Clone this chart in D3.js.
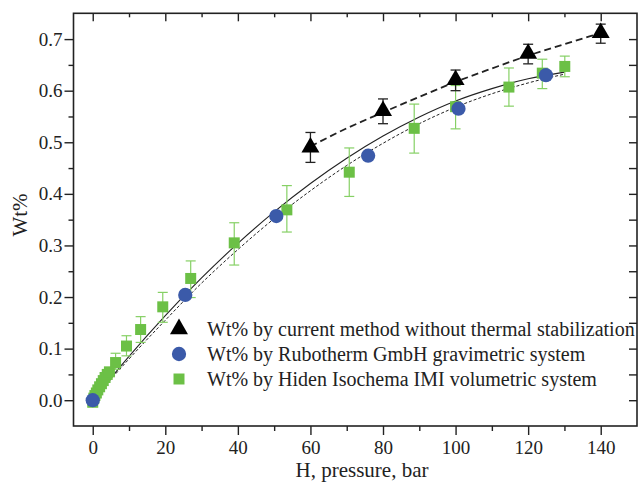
<!DOCTYPE html>
<html><head><meta charset="utf-8">
<script src="https://cdn.jsdelivr.net/npm/d3@7"></script>
</head>
<body style="margin:0;background:#fff">
<svg id="chart" width="638" height="483" style="display:block"></svg>
<script>
// ---- data ----
// current method without thermal stabilization (triangles)
const triX = [60, 80, 100, 120, 140];
const triY = [0.490, 0.561, 0.621, 0.672, 0.712];
const triLo = [0.461, 0.536, 0.600, 0.652, 0.692];
const triHi = [0.519, 0.584, 0.640, 0.690, 0.729];
// Rubotherm GmbH gravimetric (circles)
const cirX = [0, 25.5, 50.6, 75.9, 100.8, 124.9];
const cirY = [0.000, 0.204, 0.357, 0.474, 0.565, 0.630];
// Hiden Isochema IMI volumetric (squares)
const sqX = [0, 0.3, 0.6, 1.0, 1.4, 1.9, 2.4, 2.9, 3.4, 4.0, 4.6, 6.3, 9.3, 13.2, 19.3, 27.0, 39.0, 53.5, 70.7, 88.6, 100.0, 114.7, 123.9, 130.1];
const sqY = [-0.004, 0.004, 0.009, 0.014, 0.020, 0.026, 0.032, 0.038, 0.044, 0.050, 0.055, 0.073, 0.105, 0.137, 0.181, 0.236, 0.305, 0.369, 0.442, 0.527, 0.569, 0.607, 0.634, 0.647];
const sqLo = [null, null, null, null, null, null, null, null, null, null, null, 0.060, 0.086, 0.112, 0.151, 0.199, 0.262, 0.326, 0.395, 0.479, 0.526, 0.570, 0.604, 0.627];
const sqHi = [null, null, null, null, null, null, null, null, null, null, null, 0.091, 0.125, 0.162, 0.209, 0.270, 0.344, 0.416, 0.489, 0.574, 0.610, 0.644, 0.661, 0.667];
// fit curves
const fitSolidX = [0, 10, 20, 30, 40, 50, 60, 70, 80, 90, 100, 110, 120, 130];
const fitSolidY = [0, 0.085, 0.164, 0.237, 0.304, 0.365, 0.420, 0.469, 0.512, 0.549, 0.580, 0.604, 0.623, 0.636];
const fitDotX = [0, 10, 20, 30, 40, 50, 60, 70, 80, 90, 100, 110, 120, 130];
const fitDotY = [0, 0.080, 0.155, 0.227, 0.292, 0.352, 0.406, 0.455, 0.498, 0.536, 0.568, 0.594, 0.615, 0.632];
const fitDashX = [60, 70, 80, 90, 100, 110, 120, 130, 140];
const fitDashY = [0.492, 0.527, 0.558, 0.588, 0.617, 0.643, 0.668, 0.690, 0.712];
// ticks & labels
const xMajor = [0, 20, 40, 60, 80, 100, 120, 140];
const xMinor = [10, 30, 50, 70, 90, 110, 130];
const yMajor = [0.0, 0.1, 0.2, 0.3, 0.4, 0.5, 0.6, 0.7];
const yMinor = [0.05, 0.15, 0.25, 0.35, 0.45, 0.55, 0.65];
const legendLabels = [
  "Wt% by current method without thermal stabilization",
  "Wt% by Rubotherm GmbH gravimetric system",
  "Wt% by Hiden Isochema IMI volumetric system"
];
const xTitle = "H, pressure, bar";
const yTitle = "Wt%";

// ---- layout ----
const FONT = "Liberation Serif";
const L = 73.5, R = 637, T = 13.3, B = 426;
const svg = d3.select("#chart");
const x = d3.scaleLinear().domain([-5.3, 150]).range([L, R]);
const y = d3.scaleLinear().domain([-0.05, 0.75]).range([B, T]);
const ink = "#222";
const green = "#6cc046", greenBar = "#86d065", blue = "#3b5aa9";

// axes
function styleAxis(g){ g.attr("font-family", FONT); g.select(".domain").remove(); g.selectAll("line").attr("stroke", ink).attr("stroke-width", 1.4); }
svg.append("g").attr("transform", `translate(0,${B})`)
  .call(d3.axisBottom(x).tickValues(xMajor).tickSize(9).tickPadding(6).tickFormat(d3.format("d")))
  .call(styleAxis).call(g => g.selectAll("text").attr("font-size", 19).attr("fill", ink));
svg.append("g").attr("transform", `translate(0,${B})`)
  .call(d3.axisBottom(x).tickValues(xMinor).tickSize(5).tickFormat(""))
  .call(styleAxis);
svg.append("g").attr("transform", `translate(${L},0)`)
  .call(d3.axisLeft(y).tickValues(yMajor).tickSize(9).tickPadding(2).tickFormat(d3.format(".1f")))
  .call(styleAxis).call(g => g.selectAll("text").attr("font-size", 19).attr("fill", ink));
svg.append("g").attr("transform", `translate(${L},0)`)
  .call(d3.axisLeft(y).tickValues(yMinor).tickSize(5).tickFormat(""))
  .call(styleAxis);
// top (inward)
svg.append("g").attr("transform", `translate(0,${T})`)
  .call(d3.axisTop(x).tickValues(xMajor).tickSize(-8).tickFormat(""))
  .call(styleAxis);
svg.append("g").attr("transform", `translate(0,${T})`)
  .call(d3.axisTop(x).tickValues(xMinor).tickSize(-4).tickFormat(""))
  .call(styleAxis);
// right (inward)
svg.append("g").attr("transform", `translate(${R},0)`)
  .call(d3.axisRight(y).tickValues(yMajor.concat(yMinor)).tickSize(-8).tickFormat(""))
  .call(styleAxis);
// frame
svg.append("rect").attr("x", L).attr("y", T).attr("width", R - L).attr("height", B - T)
  .attr("fill", "none").attr("stroke", ink).attr("stroke-width", 1.6);

// titles
svg.append("text").attr("x", 362).attr("y", 477).attr("text-anchor", "middle").attr("font-size", 21).attr("font-family", FONT).attr("fill", ink).text(xTitle);
svg.append("text").attr("transform", "translate(27,215) rotate(-90)").attr("text-anchor", "middle").attr("font-size", 21).attr("font-family", FONT).attr("fill", ink).text(yTitle);

// curves
const line = (xs, ys) => d3.line().x(i => x(xs[i])).y(i => y(ys[i])).curve(d3.curveMonotoneX)(d3.range(xs.length));
svg.append("path").attr("d", line(fitDotX, fitDotY)).attr("fill", "none").attr("stroke", ink).attr("stroke-width", 1).attr("stroke-dasharray", "3,2");
svg.append("path").attr("d", line(fitSolidX, fitSolidY)).attr("fill", "none").attr("stroke", ink).attr("stroke-width", 1.1);
svg.append("path").attr("d", line(fitDashX, fitDashY)).attr("fill", "none").attr("stroke", ink).attr("stroke-width", 1.8).attr("stroke-dasharray", "7,4");

// error bars
function errBars(xs, lo, hi, color, w){
  const g = svg.append("g").attr("stroke", color).attr("stroke-width", w);
  xs.forEach((xv, i) => {
    if (lo[i] == null) return;
    const cx = x(xv);
    g.append("line").attr("x1", cx).attr("x2", cx).attr("y1", y(lo[i])).attr("y2", y(hi[i]));
    g.append("line").attr("x1", cx - 5).attr("x2", cx + 5).attr("y1", y(lo[i])).attr("y2", y(lo[i]));
    g.append("line").attr("x1", cx - 5).attr("x2", cx + 5).attr("y1", y(hi[i])).attr("y2", y(hi[i]));
  });
}
errBars(sqX, sqLo, sqHi, greenBar, 1.2);

// markers
const sqSym = d3.symbol().type(d3.symbolSquare).size(121);
const cirSym = d3.symbol().type(d3.symbolCircle).size(160);
const triSym = d3.symbol().type(d3.symbolTriangle).size(140);
svg.append("g").selectAll("path").data(d3.range(sqX.length)).join("path")
  .attr("d", sqSym).attr("fill", green)
  .attr("transform", i => `translate(${x(sqX[i])},${y(sqY[i])})`);
svg.append("g").selectAll("path").data(d3.range(cirX.length)).join("path")
  .attr("d", cirSym).attr("fill", blue)
  .attr("transform", i => `translate(${x(cirX[i])},${y(cirY[i])})`);
errBars(triX, triLo, triHi, ink, 1.3);
svg.append("g").selectAll("path").data(d3.range(triX.length)).join("path")
  .attr("d", triSym).attr("fill", "#000")
  .attr("transform", i => `translate(${x(triX[i])},${y(triY[i])})`);

// legend
const legSyms = [[triSym, "#000"], [cirSym, blue], [sqSym, green]];
const lg = svg.append("g");
legendLabels.forEach((t, i) => {
  const cy = 329 + i * 25;
  lg.append("path").attr("d", legSyms[i][0]).attr("fill", legSyms[i][1]).attr("transform", `translate(179,${cy})`);
  lg.append("text").attr("x", 207).attr("y", cy).attr("dy", "0.35em").attr("font-size", 20).attr("font-family", FONT).attr("fill", ink).text(t);
});
</script>
</body></html>
